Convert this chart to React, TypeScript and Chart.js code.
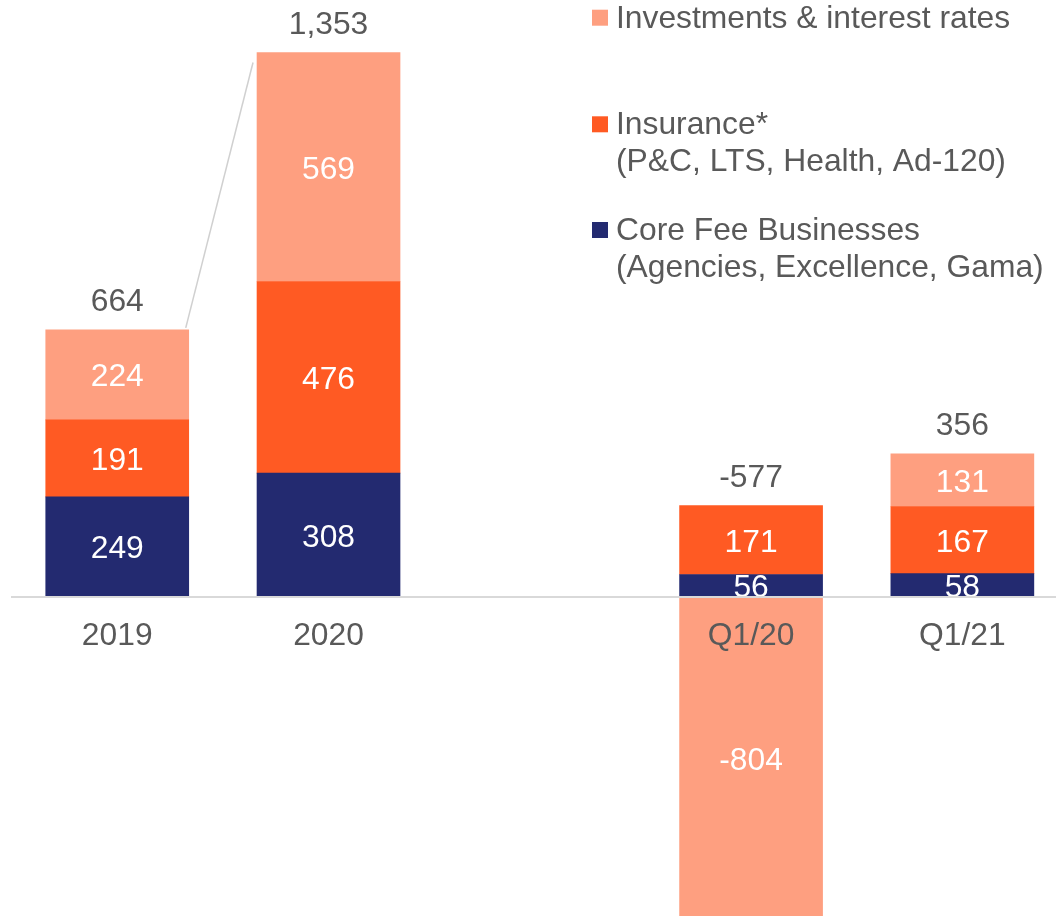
import React, { useEffect, useRef } from 'react';
import { Chart, registerables } from 'chart.js';

Chart.register(...registerables);

const categories = ['2019', '2020', '', 'Q1/20', 'Q1/21'];
const coreFee = [249, 308, null, 56, 58];
const insurance = [191, 476, null, 171, 167];
const investments = [224, 569, null, -804, 131];
const seriesNames = ['Core Fee Businesses', 'Insurance*', 'Investments & interest rates'];
const legendEntries = [
  { series: 2, lines: ['Investments & interest rates'] },
  { series: 1, lines: ['Insurance*', '(P&C, LTS, Health, Ad-120)'] },
  { series: 0, lines: ['Core Fee Businesses', '(Agencies, Excellence, Gama)'] },
];

const NAVY = '#232a70';
const ORANGE = '#ff5a23';
const SALMON = '#fe9f80';
const GRAY = '#595959';
const FONT = '"Liberation Sans", Arial, sans-serif';
const FS = 31.8;

const fmt = (v: number) => v.toLocaleString('en-US');

const labelsPlugin = {
  id: 'customLabels',
  afterDatasetsDraw(chart: any) {
    const ctx = chart.ctx;
    ctx.save();
    ctx.font = `${FS}px ${FONT}`;
    ctx.textAlign = 'center';
    ctx.textBaseline = 'alphabetic';
    const n = chart.data.labels.length;
    const tops: number[] = new Array(n).fill(Infinity);
    const totals: number[] = new Array(n).fill(0);
    const has: boolean[] = new Array(n).fill(false);
    const rects: any[] = new Array(n).fill(null);
    chart.data.datasets.forEach((ds: any, di: number) => {
      const meta = chart.getDatasetMeta(di);
      meta.data.forEach((el: any, i: number) => {
        const v = ds.data[i];
        if (v === null || v === undefined) return;
        has[i] = true;
        totals[i] += v;
        const { x, y, base, width } = el.getProps(['x', 'y', 'base', 'width'], true);
        if (v > 0) tops[i] = Math.min(tops[i], y);
        rects[i] = { x, width };
        ctx.fillStyle = '#ffffff';
        ctx.fillText(String(v), x, (y + base) / 2 + 11.5);
      });
    });
    ctx.fillStyle = GRAY;
    for (let i = 0; i < n; i++) {
      if (!has[i]) continue;
      ctx.fillText(fmt(totals[i]), rects[i].x, tops[i] - 19);
    }
    // connector line between 2019 and 2020 totals
    if (rects[0] && rects[1]) {
      ctx.strokeStyle = '#d0d0d0';
      ctx.lineWidth = 1.5;
      ctx.beginPath();
      ctx.moveTo(rects[0].x + rects[0].width / 2 - 3, tops[0] - 2);
      ctx.lineTo(rects[1].x - rects[1].width / 2 - 4, tops[1] + 10);
      ctx.stroke();
    }
    ctx.restore();
  },
  afterDraw(chart: any) {
    const ctx = chart.ctx;
    ctx.save();
    ctx.font = `${FS}px ${FONT}`;
    ctx.textAlign = 'left';
    ctx.textBaseline = 'alphabetic';
    const baselines = [27.7, 134.3, 240];
    legendEntries.forEach((entry, k) => {
      const ds = chart.data.datasets[entry.series];
      const b = baselines[k];
      ctx.fillStyle = ds.backgroundColor;
      ctx.fillRect(592, b - 18, 16, 16);
      ctx.fillStyle = GRAY;
      entry.lines.forEach((line, j) => {
        ctx.fillText(line, 616, b + j * 36.5);
      });
    });
    ctx.restore();
  },
};

export default function App() {
  const ref = useRef<HTMLCanvasElement>(null);
  useEffect(() => {
    if (!ref.current) return;
    const chart = new Chart(ref.current, {
      type: 'bar',
      data: {
        labels: categories,
        datasets: [
          { label: seriesNames[0], data: coreFee, backgroundColor: NAVY },
          { label: seriesNames[1], data: insurance, backgroundColor: ORANGE },
          { label: seriesNames[2], data: investments, backgroundColor: SALMON },
        ],
      },
      options: {
        animation: false,
        responsive: false,
        devicePixelRatio: 1,
        layout: { padding: { left: 11.6, right: 0, top: 0, bottom: 0 } },
        datasets: { bar: { barThickness: 143, borderWidth: 0 } },
        plugins: { legend: { display: false }, tooltip: { enabled: false } },
        scales: {
          x: {
            stacked: true,
            position: { y: 0 },
            grid: { display: false, drawTicks: false },
            border: { display: true, color: '#d9d9d9', width: 2, z: 1 },
            ticks: { color: GRAY, font: { family: FONT, size: FS }, padding: 20, z: 1 },
          },
          y: {
            stacked: true,
            display: false,
            min: -792.7,
            max: 1483.6,
          },
        },
      },
      plugins: [labelsPlugin],
    } as any);
    return () => chart.destroy();
  }, []);
  return (
    <div style={{ position: 'fixed', left: 0, top: 0, width: 1056, height: 916, overflow: 'hidden', background: '#fff' }}>
      <canvas ref={ref} width={1068} height={916} style={{ display: 'block' }} />
    </div>
  );
}
